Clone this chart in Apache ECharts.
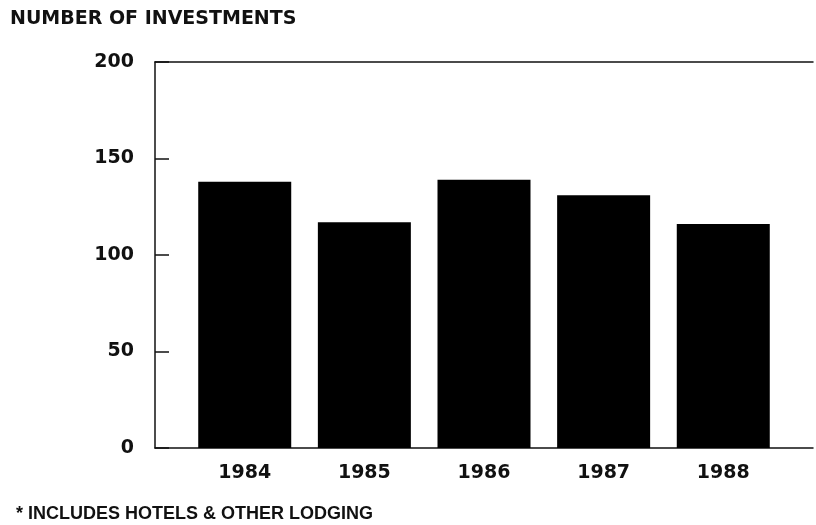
<!DOCTYPE html>
<html>
<head>
<meta charset="utf-8">
<script src="https://cdn.jsdelivr.net/npm/echarts@6/dist/echarts.min.js"></script>
<style>html,body{margin:0;padding:0;background:#fff}#c{width:816px;height:525px}</style>
</head>
<body>
<div id="c"></div>
<script>
const years = [1984, 1985, 1986, 1987, 1988];
const investments = [138, 117, 139, 131, 116];
const yTicks = [0, 50, 100, 150, 200];
const titleText = 'NUMBER OF INVESTMENTS';
const footnoteText = '* INCLUDES HOTELS & OTHER LODGING';

const chart = echarts.init(document.getElementById('c'), null, {renderer: 'canvas'});
const ink = '#111';
chart.setOption({
  backgroundColor: '#fff',
  animation: false,
  title: [
    {text: titleText, left: 5, top: 5,
     textStyle: {fontFamily: 'DejaVu Sans', fontWeight: 'bold', fontSize: 19, color: ink}},
    {text: footnoteText, left: 11, top: 500,
     textStyle: {fontFamily: 'Liberation Sans', fontWeight: 'bold', fontSize: 18, color: ink}}
  ],
  grid: {left: 155, right: 0, top: 62, bottom: 77},
  xAxis: [
    {type: 'value', min: 1983.25, max: 1988.75, interval: 0.25, position: 'bottom',
     axisLine: {show: true, lineStyle: {color: ink, width: 1.5}},
     axisTick: {show: false}, splitLine: {show: false},
     axisLabel: {margin: 16, color: ink, fontFamily: 'DejaVu Sans', fontWeight: 'bold', fontSize: 19,
       formatter: v => (years.indexOf(Math.round(v * 4) / 4) >= 0 ? String(Math.round(v)) : '')}},
    {type: 'value', min: 1983.25, max: 1988.75, position: 'top',
     axisLine: {show: true, lineStyle: {color: ink, width: 1.5}},
     axisTick: {show: false}, splitLine: {show: false}, axisLabel: {show: false}}
  ],
  yAxis: {
    type: 'value', min: yTicks[0], max: yTicks[yTicks.length - 1], interval: 50,
    axisLine: {show: true, lineStyle: {color: ink, width: 1.5}},
    axisTick: {show: true, inside: true, length: 14, lineStyle: {color: ink, width: 1.5}},
    splitLine: {show: false},
    axisLabel: {margin: 21, color: ink, fontFamily: 'DejaVu Sans', fontWeight: 'bold', fontSize: 19}
  },
  series: [{
    type: 'bar', xAxisIndex: 0,
    barWidth: 93,
    itemStyle: {color: '#000'},
    data: years.map((y, i) => [y, investments[i]])
  }]
});
</script>
</body>
</html>
